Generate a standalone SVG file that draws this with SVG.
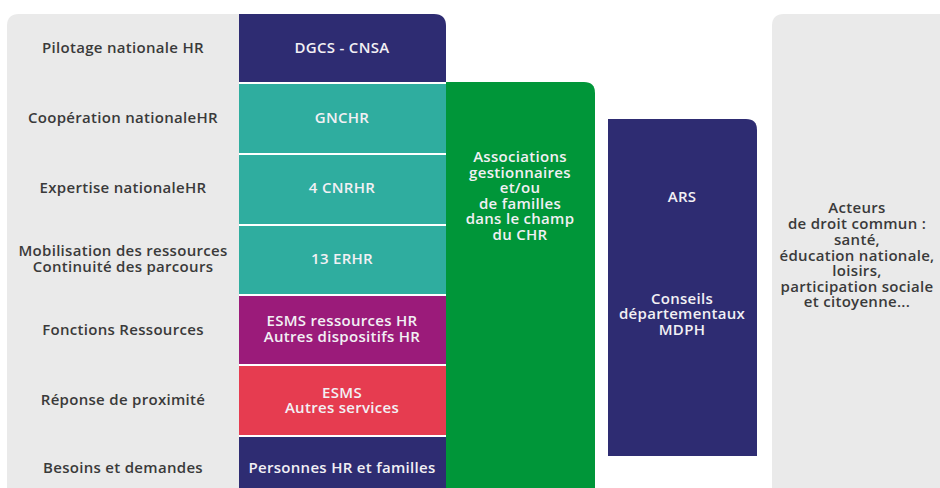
<svg xmlns="http://www.w3.org/2000/svg" width="940" height="488" viewBox="0 0 940 488">
<style>
.lab{font-family:"Open Sans","Liberation Sans",sans-serif;font-weight:600;font-size:15px;letter-spacing:0.3px;fill:#3a3a3a;text-anchor:middle}
.wt{font-family:"Open Sans","Liberation Sans",sans-serif;font-weight:600;font-size:15px;letter-spacing:0.3px;fill:#f2f0f4;text-anchor:middle}
.navy{fill:#2e2c72}.teal{fill:#2fad9f}.purple{fill:#9b1b7a}.red{fill:#e63c50}.green{fill:#009639}.grey{fill:#eaeaea}
</style>
<rect width="940" height="488" fill="#ffffff"/>
<g id="left-panel">
<path class="grey" d="M7 26 Q7 14 19 14 L239 14 L239 488 L7 488 Z"/>
<text class="lab" x="123" y="53">Pilotage nationale HR</text>
<text class="lab" x="123" y="123">Coopération nationaleHR</text>
<text class="lab" x="123" y="193">Expertise nationaleHR</text>
<text class="lab" x="123" y="256">Mobilisation des ressources</text>
<text class="lab" x="123" y="272">Continuité des parcours</text>
<text class="lab" x="123" y="335">Fonctions Ressources</text>
<text class="lab" x="123" y="405">Réponse de proximité</text>
<text class="lab" x="123" y="473">Besoins et demandes</text>
</g>
<g id="dgcs">
<path class="navy" d="M239 14 L434 14 Q446 14 446 26 L446 82 L239 82 Z"/>
<text class="wt" x="342" y="53">DGCS - CNSA</text>
</g>
<g id="gnchr">
<rect class="teal" x="239" y="84" width="207" height="69"/>
<text class="wt" x="342" y="123">GNCHR</text>
</g>
<g id="cnrhr">
<rect class="teal" x="239" y="155" width="207" height="69"/>
<text class="wt" x="342" y="193">4 CNRHR</text>
</g>
<g id="erhr">
<rect class="teal" x="239" y="226" width="207" height="68"/>
<text class="wt" x="342" y="264">13 ERHR</text>
</g>
<g id="esms-ressources">
<rect class="purple" x="239" y="296" width="207" height="68"/>
<text class="wt" x="342" y="326">ESMS ressources HR</text>
<text class="wt" x="342" y="342">Autres dispositifs HR</text>
</g>
<g id="esms-services">
<rect class="red" x="239" y="366" width="207" height="69"/>
<text class="wt" x="342" y="398">ESMS</text>
<text class="wt" x="342" y="413">Autres services</text>
</g>
<g id="personnes">
<rect class="navy" x="239" y="437" width="207" height="51"/>
<text class="wt" x="342" y="473">Personnes HR et familles</text>
</g>
<g id="associations">
<path class="green" d="M446 82 L584 82 Q595 82 595 93 L595 488 L446 488 Z"/>
<text class="wt" x="520" y="162">Associations</text>
<text class="wt" x="520" y="178">gestionnaires</text>
<text class="wt" x="520" y="193">et/ou</text>
<text class="wt" x="520" y="209">de familles</text>
<text class="wt" x="520" y="224">dans le champ</text>
<text class="wt" x="520" y="240">du CHR</text>
</g>
<g id="ars">
<path class="navy" d="M608 119 L746 119 Q757 119 757 130 L757 456 L608 456 Z"/>
<text class="wt" x="682" y="202">ARS</text>
<text class="wt" x="682" y="304">Conseils</text>
<text class="wt" x="682" y="319">départementaux</text>
<text class="wt" x="682" y="335">MDPH</text>
</g>
<g id="droit-commun">
<path class="grey" d="M772 26 Q772 14 784 14 L940 14 L940 488 L772 488 Z"/>
<text class="lab" x="857" y="213">Acteurs</text>
<text class="lab" x="857" y="229">de droit commun :</text>
<text class="lab" x="857" y="245">santé,</text>
<text class="lab" x="857" y="261">éducation nationale,</text>
<text class="lab" x="857" y="276">loisirs,</text>
<text class="lab" x="857" y="292">participation sociale</text>
<text class="lab" x="857" y="307">et citoyenne...</text>
</g>
<g id="connectors"></g>
</svg>
